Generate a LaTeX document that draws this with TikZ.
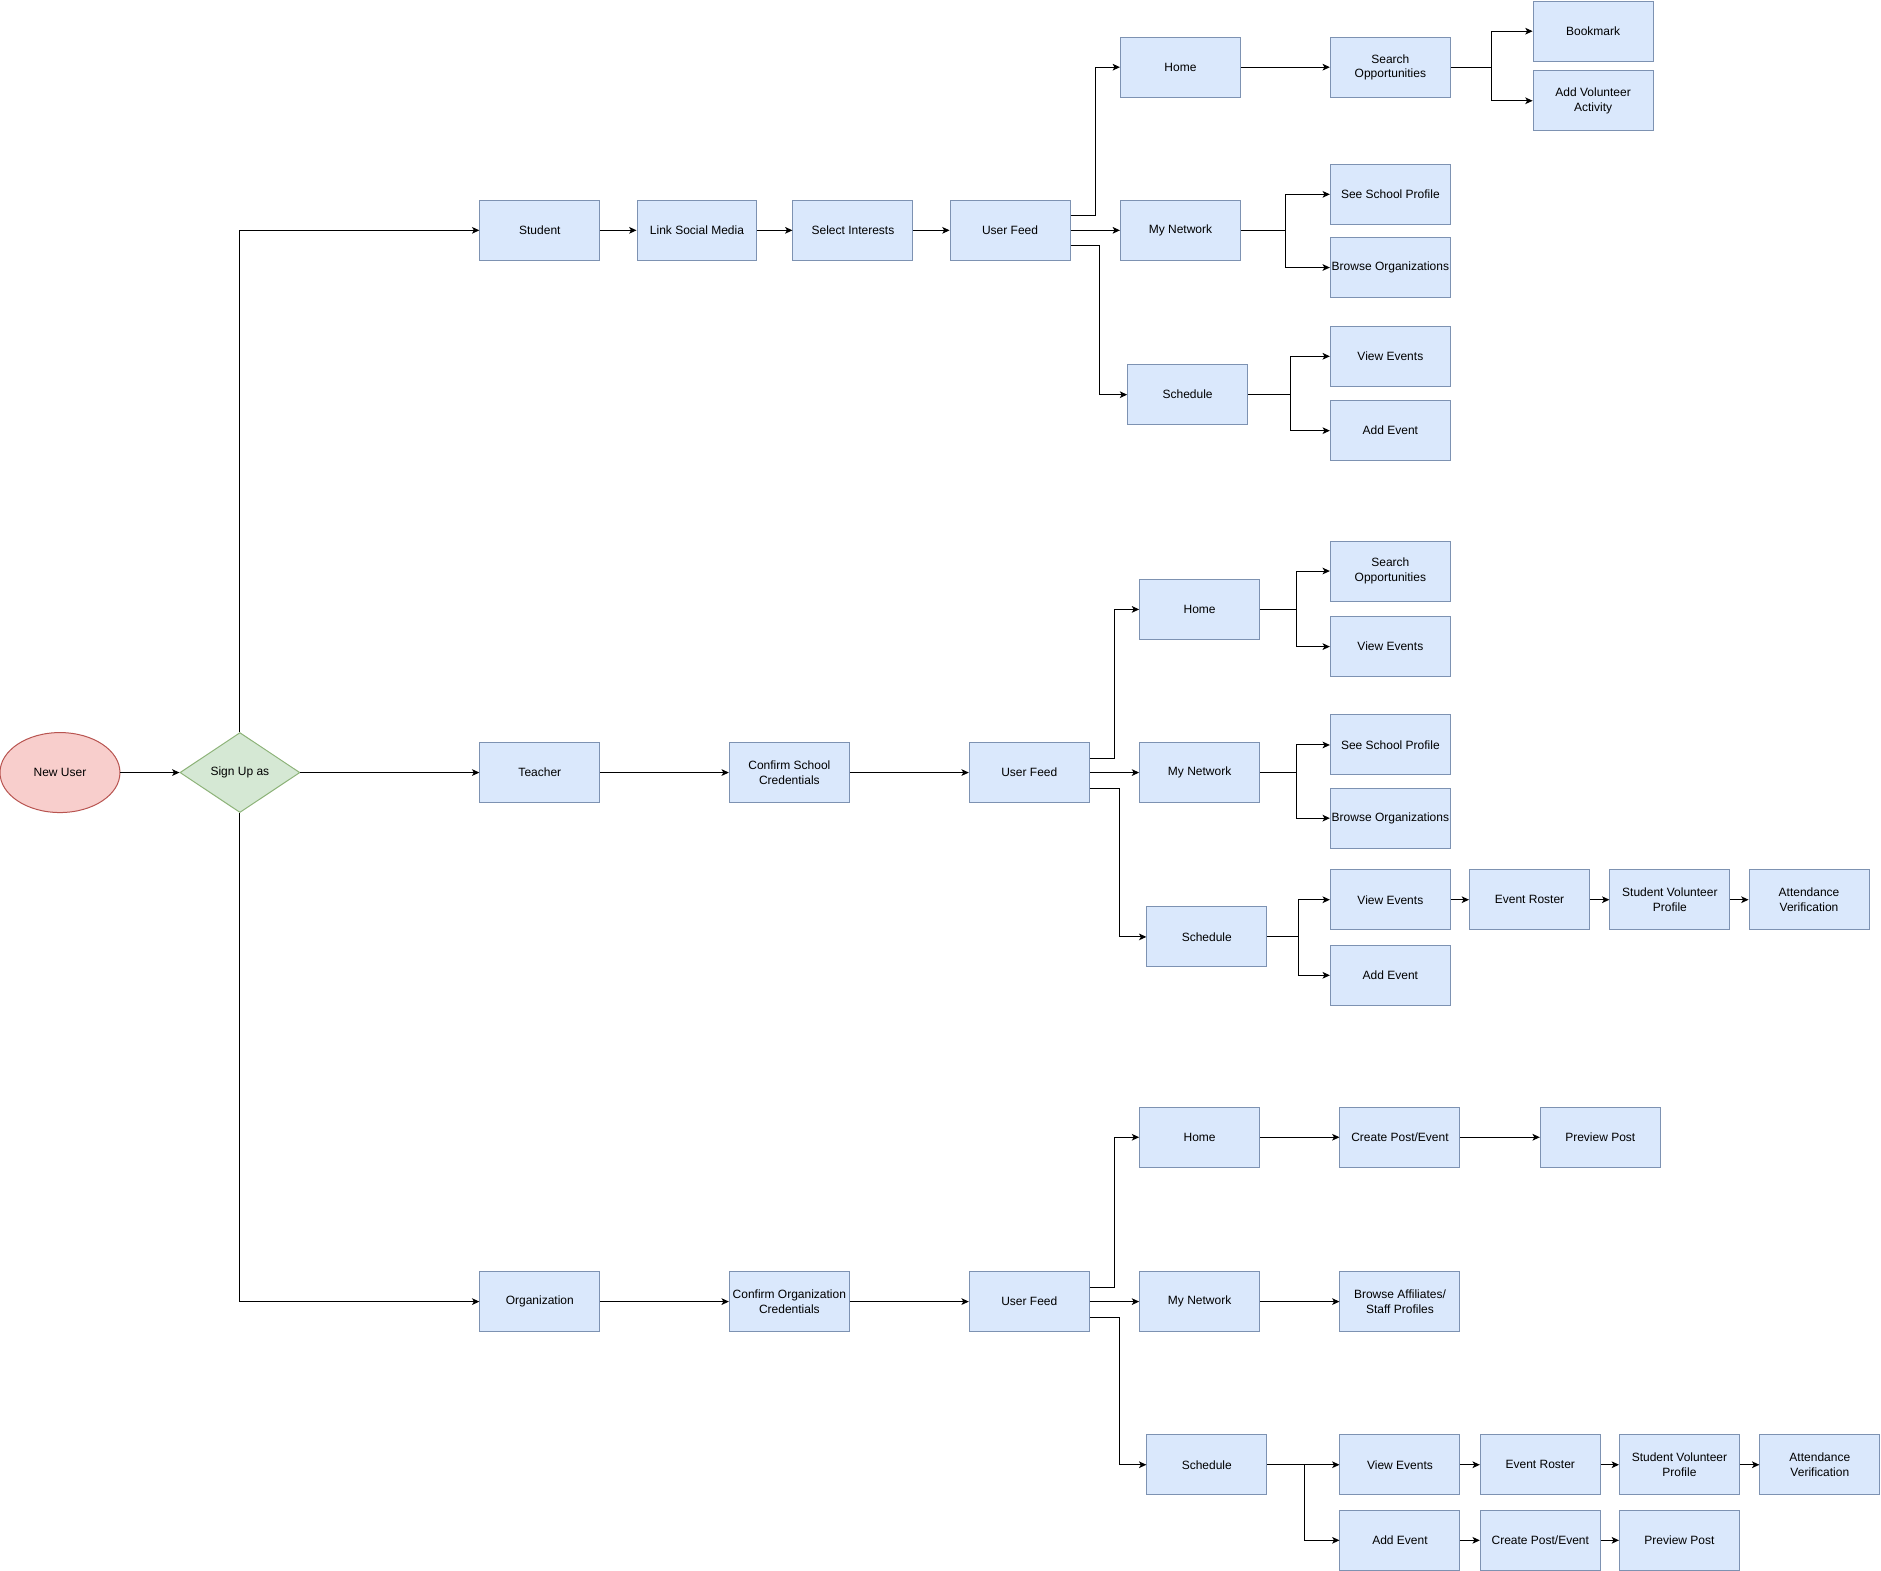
\documentclass[tikz,border=0pt]{standalone}
\usepackage{fontspec}
\setmainfont{Liberation Sans}
\usetikzlibrary{shapes.geometric,arrows.meta,calc}
\definecolor{boxfill}{HTML}{DAE8FC}
\definecolor{boxline}{HTML}{7D92B2}
\definecolor{userfill}{HTML}{F8CECC}
\definecolor{userline}{HTML}{B85450}
\definecolor{signfill}{HTML}{D5E8D4}
\definecolor{signline}{HTML}{8DB379}

\begin{document}
\begin{tikzpicture}[x=0.9pt, y=-0.9pt,
    font=\fontsize{9}{10.8}\selectfont,
    box/.style={draw=boxline, fill=boxfill, line width=0.75pt, minimum width=90pt, minimum height=45pt, inner sep=1pt, align=center},
    arr/.style={-{Stealth[length=5.5pt,width=5pt,inset=1.4pt]}, line width=0.75pt}]
    \useasboundingbox (0,-1) rectangle (1568,1308);

    % entry
    \node[ellipse, draw=userline, fill=userfill, line width=0.75pt, minimum width=90pt, minimum height=60pt] (newuser) at (50,643) {New User};
    \node[diamond, aspect=1.5, draw=signline, fill=signfill, line width=0.75pt, minimum width=90pt, minimum height=60pt, inner sep=1pt] (signup) at (200,643) {Sign Up as};
    \node[box] (student) at (450,191) {Student};
    \node[box] (teacher) at (450,643) {Teacher};
    \node[box] (org) at (450,1084) {Organization};

    \draw[arr] (newuser) -- (signup);
    \draw[arr] (signup.north) |- (student.west);
    \draw[arr] (signup) -- (teacher);
    \draw[arr] (signup.south) |- (org.west);

    % student
    \node[box] (slink) at (581,191) {Link Social Media};
    \node[box] (sinterest) at (711,191) {Select Interests};
    \node[box] (sfeed) at (842,191) {User Feed};
    \node[box] (shome) at (984,55) {Home};
    \node[box] (snet) at (984,191) {My Network};
    \node[box] (ssched) at (990,328) {Schedule};
    \node[box] (ssearch) at (1159,55) {Search\\Opportunities};
    \node[box] (sbook) at (1328,25) {Bookmark};
    \node[box] (saddvol) at (1328,83) {Add Volunteer\\Activity};
    \node[box] (sschool) at (1159,161) {See School Profile};
    \node[box] (sbrowse) at (1159,222) {Browse Organizations};
    \node[box] (sview) at (1159,296) {View Events};
    \node[box] (sadd) at (1159,358) {Add Event};

    \draw[arr] (student) -- (slink);
    \draw[arr] (slink) -- (sinterest);
    \draw[arr] (sinterest) -- (sfeed);
    \draw[arr] ($(sfeed.east)+(0,-12)$) -- ++(21,0) |- (shome.west);
    \draw[arr] (sfeed) -- (snet);
    \draw[arr] ($(sfeed.east)+(0,13)$) -- ++(24,0) |- (ssched.west);
    \draw[arr] (shome) -- (ssearch);
    \draw[arr] (ssearch.east) -- ++(34,0) |- (sbook.west);
    \draw[arr] (ssearch.east) -- ++(34,0) |- (saddvol.west);
    \draw[arr] (snet.east) -- ++(37,0) |- (sschool.west);
    \draw[arr] (snet.east) -- ++(37,0) |- (sbrowse.west);
    \draw[arr] (ssched.east) -- ++(35,0) |- (sview.west);
    \draw[arr] (ssched.east) -- ++(35,0) |- (sadd.west);

    % teacher
    \node[box] (tconfirm) at (658,643) {Confirm School\\Credentials};
    \node[box] (tfeed) at (858,643) {User Feed};
    \node[box] (thome) at (1000,507) {Home};
    \node[box] (tnet) at (1000,643) {My Network};
    \node[box] (tsched) at (1006,780) {Schedule};
    \node[box] (tsearch) at (1159,475) {Search\\Opportunities};
    \node[box] (tviewa) at (1159,538) {View Events};
    \node[box] (tschool) at (1159,620) {See School Profile};
    \node[box] (tbrowse) at (1159,681) {Browse Organizations};
    \node[box] (tviewb) at (1159,749) {View Events};
    \node[box] (troster) at (1275,749) {Event Roster};
    \node[box] (tprofile) at (1392,749) {Student Volunteer\\Profile};
    \node[box] (tattend) at (1508,749) {Attendance\\Verification};
    \node[box] (tadd) at (1159,812) {Add Event};

    \draw[arr] (teacher) -- (tconfirm);
    \draw[arr] (tconfirm) -- (tfeed);
    \draw[arr] ($(tfeed.east)+(0,-12)$) -- ++(21,0) |- (thome.west);
    \draw[arr] (tfeed) -- (tnet);
    \draw[arr] ($(tfeed.east)+(0,13)$) -- ++(25,0) |- (tsched.west);
    \draw[arr] (thome.east) -- ++(30,0) |- (tsearch.west);
    \draw[arr] (thome.east) -- ++(30,0) |- (tviewa.west);
    \draw[arr] (tnet.east) -- ++(30,0) |- (tschool.west);
    \draw[arr] (tnet.east) -- ++(30,0) |- (tbrowse.west);
    \draw[arr] (tsched.east) -- ++(26,0) |- (tviewb.west);
    \draw[arr] (tsched.east) -- ++(26,0) |- (tadd.west);
    \draw[arr] (tviewb) -- (troster);
    \draw[arr] (troster) -- (tprofile);
    \draw[arr] (tprofile) -- (tattend);

    % organization
    \node[box] (oconfirm) at (658,1084) {Confirm Organization\\Credentials};
    \node[box] (ofeed) at (858,1084) {User Feed};
    \node[box] (ohome) at (1000,947) {Home};
    \node[box] (onet) at (1000,1084) {My Network};
    \node[box] (osched) at (1006,1220) {Schedule};
    \node[box] (ocreatea) at (1167,947) {Create Post/Event};
    \node[box] (opreviewa) at (1334,947) {Preview Post};
    \node[box] (obrowse) at (1167,1084) {Browse Affiliates/\\Staff Profiles};
    \node[box] (oview) at (1167,1220) {View Events};
    \node[box] (oroster) at (1284,1220) {Event Roster};
    \node[box] (oprofile) at (1400,1220) {Student Volunteer\\Profile};
    \node[box] (oattend) at (1517,1220) {Attendance\\Verification};
    \node[box] (oadd) at (1167,1283) {Add Event};
    \node[box] (ocreateb) at (1284,1283) {Create Post/Event};
    \node[box] (opreviewb) at (1400,1283) {Preview Post};

    \draw[arr] (org) -- (oconfirm);
    \draw[arr] (oconfirm) -- (ofeed);
    \draw[arr] ($(ofeed.east)+(0,-12)$) -- ++(21,0) |- (ohome.west);
    \draw[arr] (ofeed) -- (onet);
    \draw[arr] ($(ofeed.east)+(0,13)$) -- ++(25,0) |- (osched.west);
    \draw[arr] (ohome) -- (ocreatea);
    \draw[arr] (ocreatea) -- (opreviewa);
    \draw[arr] (onet) -- (obrowse);
    \draw[arr] (osched) -- (oview);
    \draw[arr] (osched.east) -- ++(31,0) |- (oadd.west);
    \draw[arr] (oview) -- (oroster);
    \draw[arr] (oroster) -- (oprofile);
    \draw[arr] (oprofile) -- (oattend);
    \draw[arr] (oadd) -- (ocreateb);
    \draw[arr] (ocreateb) -- (opreviewb);
\end{tikzpicture}
\end{document}
